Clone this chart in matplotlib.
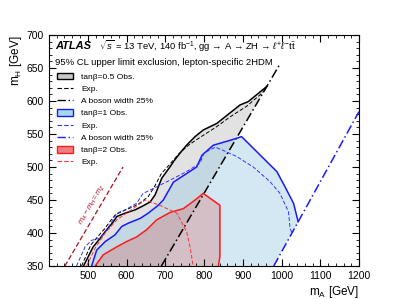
import numpy as np
import matplotlib
matplotlib.use("Agg")
import matplotlib.pyplot as plt
from matplotlib.patches import Patch
from matplotlib.lines import Line2D
from matplotlib.ticker import MultipleLocator, AutoMinorLocator

plt.rcParams['font.family'] = ['Liberation Sans', 'DejaVu Sans']
plt.rcParams['mathtext.fontset'] = 'custom'
plt.rcParams['mathtext.rm'] = 'Liberation Sans'
plt.rcParams['mathtext.it'] = 'Liberation Sans:italic'

# tan(beta) = 0.5
obs05_x = [489, 514, 532, 545, 566, 575, 596, 622, 639, 661, 674, 691, 712, 721, 738, 755, 777, 798, 833, 893, 914, 962]
obs05_y = [350, 379, 392, 402, 417, 425, 430, 435, 440, 447, 458, 483, 500, 508, 521, 533, 546, 556, 566, 594, 599, 622]
exp05_x = [484, 508, 528, 543, 562, 572, 594, 618, 636, 656, 672, 690, 710, 735, 760, 790, 830, 870, 910, 950, 962]
exp05_y = [350, 382, 396, 406, 421, 428, 434, 440, 446, 455, 470, 490, 503, 520, 533, 545, 560, 577, 592, 612, 620]
wid05_x = [690, 995]
wid05_y = [350, 655]

# tan(beta) = 1
obs1_x = [510, 523, 545, 570, 588, 605, 635, 656, 682, 695, 721, 755, 781, 795, 824, 871, 897, 945, 988, 1009, 1031, 1043]
obs1_y = [350, 374, 387, 397, 410, 415, 422, 430, 442, 450, 477, 490, 500, 518, 533, 541, 546, 518, 493, 470, 445, 417]
exp1_x = [471, 493, 510, 532, 557, 575, 596, 626, 643, 678, 712, 755, 790, 800, 829, 850, 884, 927, 970, 996, 1018, 1022, 1027]
exp1_y = [350, 379, 389, 392, 412, 430, 435, 445, 460, 470, 480, 493, 506, 521, 530, 525, 516, 500, 478, 460, 432, 407, 400]
wid1_x = [980, 1200]
wid1_y = [350, 584]

# tan(beta) = 2
obs2_x = [519, 540, 575, 600, 626, 652, 678, 712, 747, 777, 798, 841, 841, 837]
obs2_y = [350, 367, 379, 387, 394, 405, 420, 431, 437, 450, 460, 442, 364, 350]
exp2_x = [497, 520, 545, 575, 600, 625, 648, 686, 730, 755, 764, 772]
exp2_y = [350, 378, 400, 420, 430, 440, 450, 442, 430, 402, 379, 350]

# m_A = m_H + m_Z
mz_x = [441, 591]
mz_y = [350, 500]

fig = plt.figure(figsize=(3.99, 2.99), dpi=100)
ax = fig.add_axes([0.1228, 0.1104, 0.777, 0.7726])

# filled exclusion regions
ax.fill(obs05_x + [wid05_x[0]], obs05_y + [wid05_y[0]], color='#b8b8b8', alpha=0.4, lw=0)
ax.fill(obs1_x + [wid1_x[0]], obs1_y + [wid1_y[0]], color='#9fcde3', alpha=0.45, lw=0)
ax.fill(obs2_x, obs2_y, color='#e03030', alpha=0.22, lw=0)

ax.plot(obs05_x, obs05_y, color='black', lw=1.1)
ax.plot(exp05_x, exp05_y, color='black', lw=0.7, ls=(0, (4, 2)))
ax.plot(wid05_x, wid05_y, color='black', lw=1.1, ls=(0, (6, 2, 1, 2)))

ax.plot(obs1_x, obs1_y, color='#1a1aff', lw=1.1)
ax.plot(exp1_x, exp1_y, color='#3333ff', lw=0.7, ls=(0, (4, 2)))
ax.plot(wid1_x, wid1_y, color='#1a1aff', lw=1.1, ls=(0, (6, 2, 1, 2)))

ax.plot(obs2_x, obs2_y, color='#ff1a1a', lw=1.1)
ax.plot(exp2_x, exp2_y, color='#ff3333', lw=0.7, ls=(0, (4, 2)))

ax.plot(mz_x, mz_y, color='#aa1122', lw=0.9, ls=(0, (4, 2)))
ax.text(512, 443, r'$m_{A}-m_{H}=m_{Z}$', color='#aa1122', fontsize=5.5,
        rotation=59.6, ha='center', va='center', rotation_mode='anchor')

ax.set_xlim(400, 1200)
ax.set_ylim(350, 700)
ax.xaxis.set_major_locator(MultipleLocator(100))
ax.xaxis.set_minor_locator(AutoMinorLocator(5))
ax.yaxis.set_major_locator(MultipleLocator(50))
ax.yaxis.set_minor_locator(AutoMinorLocator(5))
ax.set_xticks(range(500, 1201, 100))
ax.tick_params(which='both', direction='in', top=True, right=True, labelsize=7.5)
ax.tick_params(which='major', length=5)
ax.tick_params(which='minor', length=2.5)

ax.set_xlabel(r'm$_{\mathrm{A}}$ [GeV]', fontsize=8.5, loc='right', labelpad=2)
ax.set_ylabel(r'm$_{\mathrm{H}}$ [GeV]', fontsize=8.5, loc='top', labelpad=2)

ax.text(0.019, 0.952, 'ATLAS', transform=ax.transAxes, fontsize=8,
        fontweight='bold', fontstyle='italic', va='center')
ax.text(0.16, 0.952, r'$\sqrt{s}$ = 13 TeV, 140 fb$^{-1}$, gg → A → ZH → $\ell^{+}\ell^{-}\mathrm{t}\bar{\mathrm{t}}$',
        transform=ax.transAxes, fontsize=6.8, va='center')
ax.text(0.019, 0.883, '95% CL upper limit exclusion, lepton-specific 2HDM',
        transform=ax.transAxes, fontsize=6.8, va='center')

handles = [
    Patch(facecolor='#c8c8c8', edgecolor='black', lw=1),
    Line2D([], [], color='black', lw=0.8, ls=(0, (4, 2))),
    Line2D([], [], color='black', lw=1, ls=(0, (6, 2, 1, 2))),
    Patch(facecolor='#a8d8ea', edgecolor='#1a1aff', lw=1),
    Line2D([], [], color='#3333ff', lw=0.8, ls=(0, (4, 2))),
    Line2D([], [], color='#1a1aff', lw=1, ls=(0, (6, 2, 1, 2))),
    Patch(facecolor='#f08080', edgecolor='#ff1a1a', lw=1),
    Line2D([], [], color='#ff3333', lw=0.8, ls=(0, (4, 2))),
]
labels = ['tanβ=0.5 Obs.', 'Exp.', 'A boson width 25%',
          'tanβ=1 Obs.', 'Exp.', 'A boson width 25%',
          'tanβ=2 Obs.', 'Exp.']
ax.legend(handles, labels, loc='upper left', bbox_to_anchor=(0.026, 0.837),
          frameon=False, fontsize=6, handlelength=1.9, handleheight=0.8,
          handletextpad=1.0, labelspacing=0.5, borderpad=0, borderaxespad=0)

fig.savefig('out.png', dpi=100)
